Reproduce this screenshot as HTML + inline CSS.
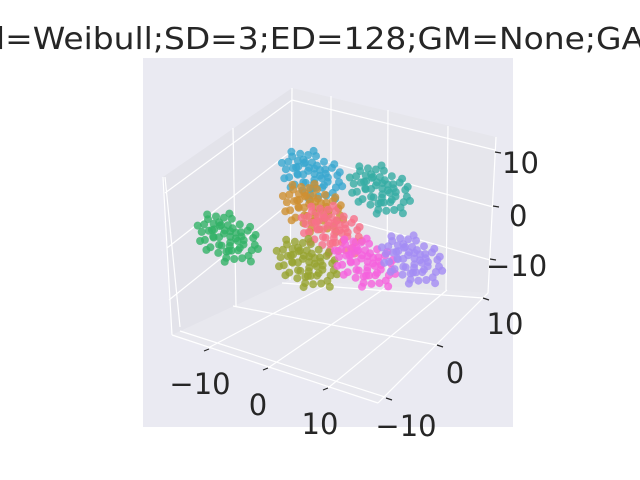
<!DOCTYPE html>
<html><head><meta charset="utf-8"><style>
html,body{margin:0;padding:0;background:#fff;}
svg{display:block;font-family:"DejaVu Sans","Liberation Sans",sans-serif;}
</style></head><body>
<svg id="chart" width="640" height="480" viewBox="0 0 640 480" xmlns="http://www.w3.org/2000/svg">
<text x="-4" y="49" font-size="30" fill="#262626" textLength="648" lengthAdjust="spacingAndGlyphs">l=Weibull;SD=3;ED=128;GM=None;GA</text>
<rect x="143" y="58" width="370" height="369" fill="#eaeaf2"/>
<g>
<polygon points="292,88 163,177 172,335 290,280" fill="#e3e3ea"/>
<polygon points="292,88 496,137 488,293 290,280" fill="#e6e6ec"/>
<polygon points="290,280 172,335 378,403 488,293" fill="#e8e8ee"/>
</g>
<g stroke="#ffffff" stroke-width="1.2" fill="none">
<line x1="165" y1="193" x2="292" y2="100"/><line x1="167" y1="248" x2="290" y2="152"/><line x1="169" y1="300" x2="290" y2="203"/>
<line x1="165" y1="177" x2="180" y2="327"/><line x1="233" y1="128" x2="236" y2="306"/><line x1="292" y1="88" x2="290" y2="280"/>
<line x1="292" y1="100" x2="495" y2="150"/><line x1="292" y1="152" x2="493" y2="207"/><line x1="290" y1="203" x2="490" y2="260"/>
<line x1="331" y1="96" x2="331" y2="283"/><line x1="388" y1="110" x2="387" y2="286"/><line x1="448" y1="126" x2="446" y2="290"/>
<line x1="208" y1="348" x2="331" y2="283"/><line x1="268" y1="368" x2="388" y2="286"/><line x1="328" y1="388" x2="447" y2="290"/>
<line x1="180" y1="331" x2="385" y2="397"/><line x1="233" y1="306" x2="437" y2="345"/><line x1="282" y1="283" x2="483" y2="298"/>
<line x1="163" y1="177" x2="172" y2="335"/><line x1="172" y1="335" x2="378" y2="403"/><line x1="378" y1="403" x2="488" y2="293"/><line x1="488" y1="293" x2="496" y2="137"/>
</g>
<g stroke="#262626" stroke-width="1.2">
<line x1="204" y1="351" x2="209" y2="349"/><line x1="263" y1="370" x2="268" y2="368"/><line x1="323" y1="390" x2="328" y2="388"/>
<line x1="386" y1="398" x2="392" y2="400"/><line x1="437" y1="345" x2="443" y2="347"/><line x1="483" y1="298" x2="489" y2="300"/>
<line x1="495" y1="152" x2="501" y2="153"/><line x1="493" y1="206" x2="499" y2="207"/><line x1="490" y1="259" x2="496" y2="260"/>
</g>
<g font-size="29" fill="#262626">
<text x="200" y="394" text-anchor="middle">−10</text>
<text x="258" y="415" text-anchor="middle">0</text>
<text x="320" y="434" text-anchor="middle">10</text>
<text x="505" y="334" text-anchor="middle">10</text>
<text x="455" y="383" text-anchor="middle">0</text>
<text x="406" y="436" text-anchor="middle">−10</text>
<text x="502" y="173">10</text>
<text x="509" y="226">0</text>
<text x="486" y="276">−10</text>
</g>
<g id="points"></g>
</svg>
<script>
const clusterNames = ["c0","c1","c2","c3","c4","c5","c6","c7"];
const clusterX = [-10.7, -7.5, 2.9, -3.4, 1.6, 2.4, 9.8, 15.4];
const clusterY = [-8.3, 4.9, 5.8, 0.0, -2.4, -8.5, -5.8, -3.2];
const clusterZ = [0, 0, 0, 0, 0, 0, 0, 0];
const clusterColors = ["#32b166","#39a7d0","#36ada4","#ce9032","#f77189","#97a431","#f561dd","#a48cf4"];
const offsetA = [-3,-2.5,-1.5,-0.5,0.5,1.5,2.5,3.2,3.4,3,2.6,1.8,0.8,-0.2,-1.2,-2.2,-2.9,-3.3,-2,-1,0,1,2,1.5,0.5,-0.8,-1.8,-3.8,3.8,0.2,-0.4,2.8,-2.7,2.9,-2.6,1,-0.5,3.5,-3.5,0.3];
const offsetB = [1,2,2.8,3,3.2,2.7,2.1,1.2,0.2,-0.8,-1.8,-2.5,-3,-3.2,-2.8,-2.3,-1.4,-0.3,0.5,1.5,2,1.2,0.4,-1,-1.8,-1.5,-0.6,0.5,-0.3,3.9,-3.9,2.8,-2.9,-2.6,2.7,0.3,0.5,1.8,-1.8,-0.6];
function projX(x,y,z){return 333.8+6.1*x+4.9*y+0.3*z;}
function projY(x,y,z){return 214.6+1.85*x-5.2*y-5.3*z;}
const g=document.getElementById('points');
const NS="http://www.w3.org/2000/svg";
for(let c=0;c<clusterNames.length;c++){
  for(let pass=0;pass<2;pass++){
    for(let i=0;i<offsetA.length;i++){
      if(pass===1 && i%2===1) continue;
      const dx = pass===0?offsetA[i]*1.3:offsetB[i]*0.8;
      const dz = pass===0?offsetB[i]*1.2:-offsetA[i]*0.7;
      const px = projX(clusterX[c]+dx, clusterY[c], clusterZ[c]);
      const py = projY(clusterX[c]+dx, clusterY[c], clusterZ[c]+dz);
      const el=document.createElementNS(NS,'circle');
      
      
      el.setAttribute('cx',px.toFixed(1));
      el.setAttribute('cy',py.toFixed(1));
      el.setAttribute('r','4');
      el.setAttribute('fill',clusterColors[c]);
      el.setAttribute('fill-opacity','0.8');
      g.appendChild(el);
    }
  }
}
</script>
</body></html>
